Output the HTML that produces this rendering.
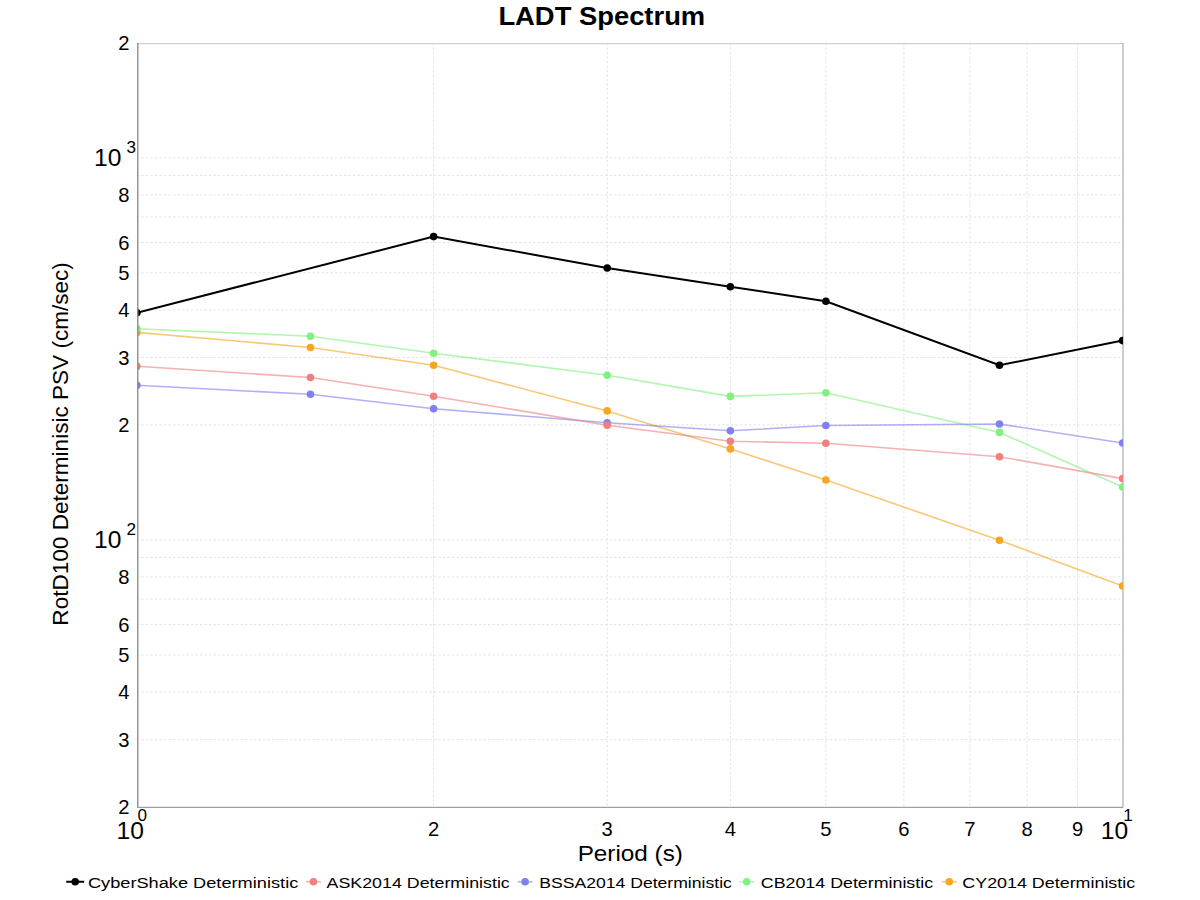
<!DOCTYPE html><html><head><meta charset="utf-8"><style>html,body{margin:0;padding:0;background:#fff;}svg{display:block;}text{font-family:"Liberation Sans",sans-serif;}</style></head><body>
<svg width="1200" height="900" viewBox="0 0 1200 900">
<rect width="1200" height="900" fill="#fff"/>
<text x="601.8" y="24.8" font-size="25.4" font-weight="bold" text-anchor="middle" textLength="206.8" lengthAdjust="spacingAndGlyphs" fill="#000">LADT Spectrum</text>
<line x1="136.90" y1="739.67" x2="1122.60" y2="739.67" stroke="#e3e3e3" stroke-width="1" stroke-dasharray="2.5 2"/>
<line x1="136.90" y1="691.94" x2="1122.60" y2="691.94" stroke="#e3e3e3" stroke-width="1" stroke-dasharray="2.5 2"/>
<line x1="136.90" y1="654.92" x2="1122.60" y2="654.92" stroke="#e3e3e3" stroke-width="1" stroke-dasharray="2.5 2"/>
<line x1="136.90" y1="624.66" x2="1122.60" y2="624.66" stroke="#e3e3e3" stroke-width="1" stroke-dasharray="2.5 2"/>
<line x1="136.90" y1="599.09" x2="1122.60" y2="599.09" stroke="#e3e3e3" stroke-width="1" stroke-dasharray="2.5 2"/>
<line x1="136.90" y1="576.93" x2="1122.60" y2="576.93" stroke="#e3e3e3" stroke-width="1" stroke-dasharray="2.5 2"/>
<line x1="136.90" y1="557.39" x2="1122.60" y2="557.39" stroke="#e3e3e3" stroke-width="1" stroke-dasharray="2.5 2"/>
<line x1="136.90" y1="539.91" x2="1122.60" y2="539.91" stroke="#e3e3e3" stroke-width="1" stroke-dasharray="2.5 2"/>
<line x1="136.90" y1="424.90" x2="1122.60" y2="424.90" stroke="#e3e3e3" stroke-width="1" stroke-dasharray="2.5 2"/>
<line x1="136.90" y1="357.62" x2="1122.60" y2="357.62" stroke="#e3e3e3" stroke-width="1" stroke-dasharray="2.5 2"/>
<line x1="136.90" y1="309.88" x2="1122.60" y2="309.88" stroke="#e3e3e3" stroke-width="1" stroke-dasharray="2.5 2"/>
<line x1="136.90" y1="272.86" x2="1122.60" y2="272.86" stroke="#e3e3e3" stroke-width="1" stroke-dasharray="2.5 2"/>
<line x1="136.90" y1="242.61" x2="1122.60" y2="242.61" stroke="#e3e3e3" stroke-width="1" stroke-dasharray="2.5 2"/>
<line x1="136.90" y1="217.03" x2="1122.60" y2="217.03" stroke="#e3e3e3" stroke-width="1" stroke-dasharray="2.5 2"/>
<line x1="136.90" y1="194.87" x2="1122.60" y2="194.87" stroke="#e3e3e3" stroke-width="1" stroke-dasharray="2.5 2"/>
<line x1="136.90" y1="175.33" x2="1122.60" y2="175.33" stroke="#e3e3e3" stroke-width="1" stroke-dasharray="2.5 2"/>
<line x1="136.90" y1="157.85" x2="1122.60" y2="157.85" stroke="#e3e3e3" stroke-width="1" stroke-dasharray="2.5 2"/>
<line x1="433.63" y1="42.84" x2="433.63" y2="806.95" stroke="#e3e3e3" stroke-width="1" stroke-dasharray="2.5 2"/>
<line x1="607.20" y1="42.84" x2="607.20" y2="806.95" stroke="#e3e3e3" stroke-width="1" stroke-dasharray="2.5 2"/>
<line x1="730.35" y1="42.84" x2="730.35" y2="806.95" stroke="#e3e3e3" stroke-width="1" stroke-dasharray="2.5 2"/>
<line x1="825.87" y1="42.84" x2="825.87" y2="806.95" stroke="#e3e3e3" stroke-width="1" stroke-dasharray="2.5 2"/>
<line x1="903.92" y1="42.84" x2="903.92" y2="806.95" stroke="#e3e3e3" stroke-width="1" stroke-dasharray="2.5 2"/>
<line x1="969.91" y1="42.84" x2="969.91" y2="806.95" stroke="#e3e3e3" stroke-width="1" stroke-dasharray="2.5 2"/>
<line x1="1027.08" y1="42.84" x2="1027.08" y2="806.95" stroke="#e3e3e3" stroke-width="1" stroke-dasharray="2.5 2"/>
<line x1="1077.50" y1="42.84" x2="1077.50" y2="806.95" stroke="#e3e3e3" stroke-width="1" stroke-dasharray="2.5 2"/>
<line x1="137" y1="43.6" x2="1123.8" y2="43.6" stroke="#cfcfcf" stroke-width="1.3"/>
<line x1="1123" y1="43" x2="1123" y2="807.5" stroke="#c2c2c2" stroke-width="1.6"/>
<defs><clipPath id="da"><rect x="137.6" y="42.84" width="985.40" height="764.11"/></clipPath></defs>
<g clip-path="url(#da)">
<polyline points="136.90,332.40 310.47,347.50 433.63,365.20 607.20,410.90 730.35,448.90 825.87,480.00 999.45,540.30 1122.60,586.00" fill="none" stroke="#f5a623" stroke-width="1.6" stroke-opacity="0.62"/>
<circle cx="136.90" cy="332.40" r="3.8" fill="#f5a623"/>
<circle cx="310.47" cy="347.50" r="3.8" fill="#f5a623"/>
<circle cx="433.63" cy="365.20" r="3.8" fill="#f5a623"/>
<circle cx="607.20" cy="410.90" r="3.8" fill="#f5a623"/>
<circle cx="730.35" cy="448.90" r="3.8" fill="#f5a623"/>
<circle cx="825.87" cy="480.00" r="3.8" fill="#f5a623"/>
<circle cx="999.45" cy="540.30" r="3.8" fill="#f5a623"/>
<circle cx="1122.60" cy="586.00" r="3.8" fill="#f5a623"/>
<polyline points="136.90,328.70 310.47,336.20 433.63,353.20 607.20,375.30 730.35,396.40 825.87,392.80 999.45,432.40 1122.60,487.00" fill="none" stroke="#80f080" stroke-width="1.6" stroke-opacity="0.62"/>
<circle cx="136.90" cy="328.70" r="3.8" fill="#80f080"/>
<circle cx="310.47" cy="336.20" r="3.8" fill="#80f080"/>
<circle cx="433.63" cy="353.20" r="3.8" fill="#80f080"/>
<circle cx="607.20" cy="375.30" r="3.8" fill="#80f080"/>
<circle cx="730.35" cy="396.40" r="3.8" fill="#80f080"/>
<circle cx="825.87" cy="392.80" r="3.8" fill="#80f080"/>
<circle cx="999.45" cy="432.40" r="3.8" fill="#80f080"/>
<circle cx="1122.60" cy="487.00" r="3.8" fill="#80f080"/>
<polyline points="136.90,385.30 310.47,394.30 433.63,408.70 607.20,422.70 730.35,430.80 825.87,425.50 999.45,424.00 1122.60,443.00" fill="none" stroke="#8080f0" stroke-width="1.6" stroke-opacity="0.62"/>
<circle cx="136.90" cy="385.30" r="3.8" fill="#8080f0"/>
<circle cx="310.47" cy="394.30" r="3.8" fill="#8080f0"/>
<circle cx="433.63" cy="408.70" r="3.8" fill="#8080f0"/>
<circle cx="607.20" cy="422.70" r="3.8" fill="#8080f0"/>
<circle cx="730.35" cy="430.80" r="3.8" fill="#8080f0"/>
<circle cx="825.87" cy="425.50" r="3.8" fill="#8080f0"/>
<circle cx="999.45" cy="424.00" r="3.8" fill="#8080f0"/>
<circle cx="1122.60" cy="443.00" r="3.8" fill="#8080f0"/>
<polyline points="136.90,366.30 310.47,377.50 433.63,396.20 607.20,425.30 730.35,441.20 825.87,443.30 999.45,456.70 1122.60,478.60" fill="none" stroke="#f08080" stroke-width="1.6" stroke-opacity="0.62"/>
<circle cx="136.90" cy="366.30" r="3.8" fill="#f08080"/>
<circle cx="310.47" cy="377.50" r="3.8" fill="#f08080"/>
<circle cx="433.63" cy="396.20" r="3.8" fill="#f08080"/>
<circle cx="607.20" cy="425.30" r="3.8" fill="#f08080"/>
<circle cx="730.35" cy="441.20" r="3.8" fill="#f08080"/>
<circle cx="825.87" cy="443.30" r="3.8" fill="#f08080"/>
<circle cx="999.45" cy="456.70" r="3.8" fill="#f08080"/>
<circle cx="1122.60" cy="478.60" r="3.8" fill="#f08080"/>
<polyline points="136.90,312.70 433.63,236.60 607.20,268.00 730.35,286.70 825.87,301.30 999.45,365.30 1122.60,340.60" fill="none" stroke="#000000" stroke-width="2"/>
<circle cx="136.90" cy="312.70" r="3.8" fill="#000000"/>
<circle cx="433.63" cy="236.60" r="3.8" fill="#000000"/>
<circle cx="607.20" cy="268.00" r="3.8" fill="#000000"/>
<circle cx="730.35" cy="286.70" r="3.8" fill="#000000"/>
<circle cx="825.87" cy="301.30" r="3.8" fill="#000000"/>
<circle cx="999.45" cy="365.30" r="3.8" fill="#000000"/>
<circle cx="1122.60" cy="340.60" r="3.8" fill="#000000"/>
</g>
<line x1="137.8" y1="43" x2="137.8" y2="807.9" stroke="#858585" stroke-width="1.3"/>
<line x1="137.2" y1="807.4" x2="1123" y2="807.4" stroke="#a0a0a0" stroke-width="1.1"/>
<text x="129.5" y="49.89" font-size="20.2" text-anchor="end" fill="#000">2</text>
<text x="129.5" y="201.92" font-size="20.2" text-anchor="end" fill="#000">8</text>
<text x="129.5" y="249.66" font-size="20.2" text-anchor="end" fill="#000">6</text>
<text x="129.5" y="279.91" font-size="20.2" text-anchor="end" fill="#000">5</text>
<text x="129.5" y="316.93" font-size="20.2" text-anchor="end" fill="#000">4</text>
<text x="129.5" y="364.67" font-size="20.2" text-anchor="end" fill="#000">3</text>
<text x="129.5" y="431.94" font-size="20.2" text-anchor="end" fill="#000">2</text>
<text x="129.5" y="583.98" font-size="20.2" text-anchor="end" fill="#000">8</text>
<text x="129.5" y="631.71" font-size="20.2" text-anchor="end" fill="#000">6</text>
<text x="129.5" y="661.96" font-size="20.2" text-anchor="end" fill="#000">5</text>
<text x="129.5" y="698.99" font-size="20.2" text-anchor="end" fill="#000">4</text>
<text x="129.5" y="746.72" font-size="20.2" text-anchor="end" fill="#000">3</text>
<text x="129.5" y="814.00" font-size="20.2" text-anchor="end" fill="#000">2</text>
<text x="94" y="166.44" font-size="24.6" fill="#000">10</text>
<text x="126.6" y="152.64" font-size="17.1" fill="#000">3</text>
<text x="94" y="548.49" font-size="24.6" fill="#000">10</text>
<text x="126.6" y="534.69" font-size="17.1" fill="#000">2</text>
<text x="433.63" y="835.8" font-size="20.2" text-anchor="middle" fill="#000">2</text>
<text x="607.20" y="835.8" font-size="20.2" text-anchor="middle" fill="#000">3</text>
<text x="730.35" y="835.8" font-size="20.2" text-anchor="middle" fill="#000">4</text>
<text x="825.87" y="835.8" font-size="20.2" text-anchor="middle" fill="#000">5</text>
<text x="903.92" y="835.8" font-size="20.2" text-anchor="middle" fill="#000">6</text>
<text x="969.91" y="835.8" font-size="20.2" text-anchor="middle" fill="#000">7</text>
<text x="1027.08" y="835.8" font-size="20.2" text-anchor="middle" fill="#000">8</text>
<text x="1077.50" y="835.8" font-size="20.2" text-anchor="middle" fill="#000">9</text>
<text x="116.5" y="838.9" font-size="24.6" fill="#000">10</text>
<text x="137.5" y="821.4" font-size="17.1" fill="#000">0</text>
<text x="1100.8" y="838.9" font-size="24.6" fill="#000">10</text>
<text x="1123.2" y="820.9" font-size="17.1" fill="#000">1</text>
<text x="630.3" y="861.3" font-size="22.5" text-anchor="middle" textLength="105.2" lengthAdjust="spacingAndGlyphs" fill="#000">Period (s)</text>
<text transform="translate(68,443.9) rotate(-90)" x="0" y="0" font-size="22.5" text-anchor="middle" textLength="363.5" lengthAdjust="spacingAndGlyphs" fill="#000">RotD100 Determinisic PSV (cm/sec)</text>
<line x1="66.20" y1="881.75" x2="84.20" y2="881.75" stroke="#000000" stroke-width="2"/>
<circle cx="75.20" cy="881.75" r="3.8" fill="#000000"/>
<text x="87.90" y="888" font-size="15.2" textLength="210.40" lengthAdjust="spacingAndGlyphs" fill="#000">CyberShake Deterministic</text>
<line x1="305.90" y1="881.75" x2="320.90" y2="881.75" stroke="#f08080" stroke-width="1.6" stroke-opacity="0.6"/>
<circle cx="313.40" cy="881.75" r="3.8" fill="#f08080"/>
<text x="326.50" y="888" font-size="15.2" textLength="183.30" lengthAdjust="spacingAndGlyphs" fill="#000">ASK2014 Deterministic</text>
<line x1="517.60" y1="881.75" x2="532.60" y2="881.75" stroke="#8080f0" stroke-width="1.6" stroke-opacity="0.6"/>
<circle cx="525.10" cy="881.75" r="3.8" fill="#8080f0"/>
<text x="539.20" y="888" font-size="15.2" textLength="192.70" lengthAdjust="spacingAndGlyphs" fill="#000">BSSA2014 Deterministic</text>
<line x1="739.20" y1="881.75" x2="754.20" y2="881.75" stroke="#80f080" stroke-width="1.6" stroke-opacity="0.6"/>
<circle cx="746.70" cy="881.75" r="3.8" fill="#80f080"/>
<text x="760.80" y="888" font-size="15.2" textLength="172.30" lengthAdjust="spacingAndGlyphs" fill="#000">CB2014 Deterministic</text>
<line x1="941.75" y1="881.75" x2="956.75" y2="881.75" stroke="#f5a623" stroke-width="1.6" stroke-opacity="0.6"/>
<circle cx="949.25" cy="881.75" r="3.8" fill="#f5a623"/>
<text x="962.30" y="888" font-size="15.2" textLength="172.90" lengthAdjust="spacingAndGlyphs" fill="#000">CY2014 Deterministic</text>
</svg></body></html>
